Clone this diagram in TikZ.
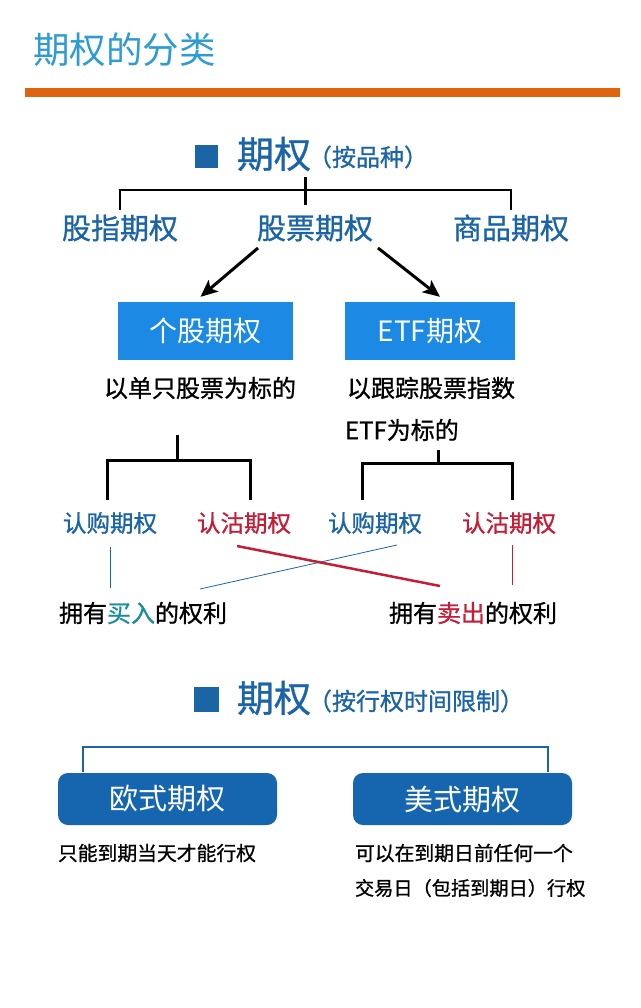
\documentclass[tikz,border=0pt]{standalone}
\usepackage{fontspec}
\setmainfont{Noto Sans CJK SC}
\newfontfamily\medf{Noto Sans CJK SC}[FakeBold=0.9]
\usetikzlibrary{arrows.meta,positioning,calc}
\definecolor{titleblue}{HTML}{2E9BD2}
\definecolor{barorange}{HTML}{E0640E}
\definecolor{headblue}{HTML}{1B64A6}
\definecolor{boxblue}{HTML}{1C8AE4}
\definecolor{roundblue}{HTML}{1565AF}
\definecolor{putred}{HTML}{C21E38}
\definecolor{buyteal}{HTML}{1A8E9E}
\newcommand{\fsz}[1]{\fontsize{#1pt}{#1pt}\selectfont}
\tikzset{
  txt/.style={inner sep=0pt, outer sep=0pt},
  ttl/.style={txt, text=titleblue, font=\fsz{36.5}},
  sqr/.style={fill=headblue, minimum size=23pt, inner sep=0pt},
  hdbig/.style={txt, text=headblue, font=\medf\fsz{37}},
  hdsmall/.style={txt, text=headblue, font=\medf\fsz{22}},
  lvl/.style={txt, text=headblue, font=\medf\fsz{29}},
  sbox/.style={fill=boxblue, text=white, font=\fsz{28}, minimum height=58pt, inner sep=0pt},
  rbox/.style={fill=roundblue, text=white, font=\fsz{29}, rounded corners=10pt,
    minimum width=219pt, minimum height=52pt, inner sep=0pt},
  desc/.style={txt, font=\medf\fsz{24}},
  small/.style={txt, font=\medf\fsz{19.8}},
  call/.style={txt, text=headblue, font=\medf\fsz{23.5}},
  put/.style={txt, text=putred, font=\medf\fsz{23.5}},
  tree/.style={line width=2pt},
  brace/.style={line width=3pt},
  arr/.style={-{Stealth[length=17pt, width=15pt, inset=4pt]}, line width=3pt},
}

\begin{document}
\begin{tikzpicture}[x=1pt, y=-1pt]
  \useasboundingbox[fill=white] (0,0) rectangle (640,1008);

  % title and bar
  \node[ttl, anchor=west] (ttl) at (33,50) {期权的分类};
  \fill[barorange] (25,88) rectangle (620,97);

  % first header
  \node[sqr] (sq1) at (206.5,156.5) {};
  \node[hdbig, anchor=west] (opt1) at (237,154) {期权};
  \node[hdsmall, font=\medf\fsz{24}, anchor=west] (by1) at (308,157) {（按品种）};

  \node[lvl] (idx) at (120,228) {股指期权};
  \node[lvl] (stk) at (315,228) {股票期权};
  \node[lvl] (com) at (511,228) {商品期权};

  \coordinate (j1) at (305,190);
  \draw[line width=3pt] (305,177) -- (305,205);
  \draw[tree] ($(idx.north)+(0,-5)$) |- (j1) -| ($(com.north)+(0,-5)$);

  % stock options
  \node[sbox, minimum width=175pt] (sgl) at (205.5,331) {个股期权};
  \node[sbox, minimum width=170pt] (etf) at (430,331) {ETF期权};
  \draw[arr] (258,248) -- ($(sgl.north)+(-5,-5)$);
  \draw[arr] (378,248) -- ($(etf.north)+(10,-5)$);

  \node[desc] (sgld) at (200,388) {以单只股票为标的};
  \node[desc, anchor=west] (etfd) at (347,388) {以跟踪股票指数};
  \node[desc, anchor=west] (etfd2) at (345,430) {ETF为标的};

  % calls and puts
  \node[call] (c1) at (110,523) {认购期权};
  \node[put]  (p1) at (244,523) {认沽期权};
  \node[call] (c2) at (375,523) {认购期权};
  \node[put]  (p2) at (509,523) {认沽期权};

  \coordinate (b1) at (177,460);
  \coordinate (b2) at (438,463);
  \draw[brace] (177,435) -- (b1);
  \draw[brace] (107,500) |- (b1) -| (250,500);
  \draw[brace] (438,450) -- (b2);
  \draw[brace] (362,500) |- (b2) -| (512,500);

  % rights
  \node[desc, anchor=west] (buy) at (59,613)
    {拥有\textcolor{buyteal}{买入}的权利};
  \node[desc, anchor=west] (sell) at (389,613)
    {拥有\textcolor{putred}{卖出}的权利};

  \draw[headblue, line width=0.8pt] (110,547) -- (110,588);
  \draw[headblue, line width=0.8pt] (397,545) -- (200,589);
  \draw[putred, line width=2.5pt] (237,546) -- (440,586);
  \draw[putred, line width=0.8pt] (512,545) -- (512,585);

  % second header
  \node[sqr, minimum size=25pt] (sq2) at (206.5,699.5) {};
  \node[hdbig] (opt2) [anchor=west] at (237,698) {期权};
  \node[hdsmall, font=\medf\fsz{24}, anchor=west] (by2) at (308,701) {（按行权时间限制）};

  \node[rbox] (eu) at (167.5,799) {欧式期权};
  \node[rbox] (us) at (462.5,799) {美式期权};
  \coordinate (j2) at (315,747);
  \draw[headblue, line width=1.2pt] (83,772) |- (j2) -| (548,772);

  \node[small, anchor=west] (eud) at (58,853) {只能到期当天才能行权};
  \node[small, anchor=west] (usd) at (355,853) {可以在到期日前任何一个};
  \node[small, font=\medf\fsz{19.2}, anchor=west] (usd2) at (355,888) {交易日（包括到期日）行权};
\end{tikzpicture}
\end{document}
